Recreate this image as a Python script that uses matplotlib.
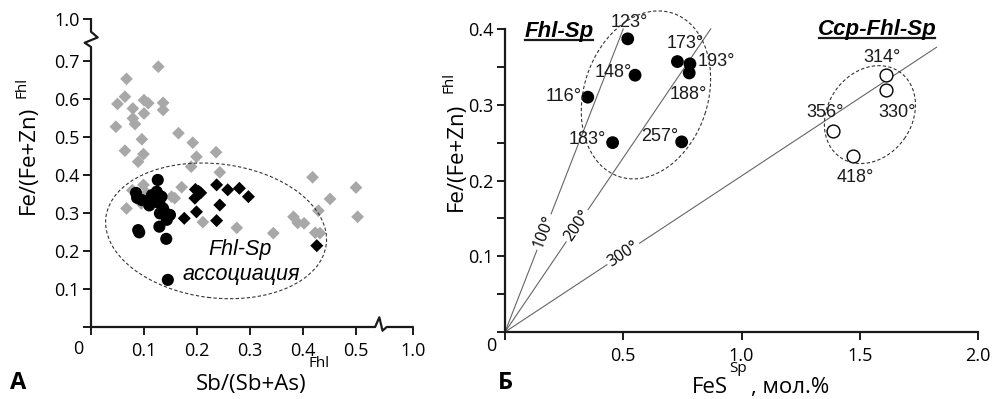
import numpy as np
import matplotlib
matplotlib.use('Agg')
import matplotlib.pyplot as plt
from matplotlib.patches import Ellipse
from matplotlib.lines import Line2D
from matplotlib.transforms import IdentityTransform

plt.rcParams['font.family'] = ['Open Sans', 'DejaVu Sans']

# ---------------- Panel A data ----------------
gray_x = [0.127, 0.067, 0.064, 0.050, 0.079, 0.100, 0.108, 0.100, 0.136, 0.136,
          0.079, 0.083, 0.047, 0.165, 0.096, 0.064, 0.099, 0.089, 0.192, 0.199,
          0.236, 0.189, 0.243, 0.171, 0.158, 0.211, 0.275, 0.344, 0.418, 0.451,
          0.429, 0.500, 0.503, 0.382, 0.390, 0.402, 0.423, 0.432,
          0.067, 0.078, 0.099, 0.105, 0.095, 0.152]
gray_y = [0.685, 0.653, 0.606, 0.587, 0.575, 0.597, 0.589, 0.562, 0.590, 0.571,
          0.549, 0.534, 0.527, 0.510, 0.494, 0.464, 0.455, 0.435, 0.485, 0.448,
          0.460, 0.422, 0.407, 0.368, 0.339, 0.276, 0.261, 0.247, 0.394, 0.337,
          0.306, 0.367, 0.290, 0.290, 0.274, 0.273, 0.248, 0.247,
          0.312, 0.360, 0.374, 0.352, 0.325, 0.343]
circ_x = [0.126, 0.085, 0.087, 0.096, 0.115, 0.124, 0.133, 0.129, 0.136, 0.130,
          0.149, 0.143, 0.129, 0.091, 0.089, 0.142, 0.145, 0.110, 0.120, 0.140]
circ_y = [0.387, 0.353, 0.340, 0.334, 0.347, 0.356, 0.343, 0.326, 0.312, 0.299,
          0.295, 0.282, 0.264, 0.249, 0.255, 0.232, 0.124, 0.320, 0.330, 0.300]
dia_x = [0.197, 0.207, 0.196, 0.199, 0.176, 0.237, 0.258, 0.280, 0.297, 0.243,
         0.237, 0.426, 0.203]
dia_y = [0.362, 0.353, 0.339, 0.303, 0.286, 0.374, 0.361, 0.365, 0.343, 0.321,
         0.280, 0.214, 0.357]
a_xticks = [0.1, 0.2, 0.3, 0.4, 0.5]
a_xtick_labels = ['0.1', '0.2', '0.3', '0.4', '0.5']
a_yticks = [0.1, 0.2, 0.3, 0.4, 0.5, 0.6, 0.7]
a_ytick_labels = ['0.1', '0.2', '0.3', '0.4', '0.5', '0.6', '0.7']
a_break_label = '1.0'

# ---------------- Panel B data ----------------
fhl_x = [0.519, 0.550, 0.350, 0.455, 0.747, 0.729, 0.782, 0.779]
fhl_y = [0.387, 0.339, 0.310, 0.250, 0.251, 0.357, 0.354, 0.342]
fhl_labels = ['123°', '148°', '116°', '183°', '257°', '173°', '193°', '188°']
ccp_x = [1.610, 1.611, 1.386, 1.473]
ccp_y = [0.339, 0.319, 0.266, 0.232]
ccp_labels = ['314°', '330°', '356°', '418°']
iso_labels = ['100°', '200°', '300°']
iso_slopes = [0.80, 0.46, 0.206]
iso_xend = [0.50, 0.87, 1.825]
b_xticks = [0.5, 1.0, 1.5, 2.0]
b_xtick_labels = ['0.5', '1.0', '1.5', '2.0']
b_yticks = [0.1, 0.2, 0.3, 0.4]
b_ytick_labels = ['0.1', '0.2', '0.3', '0.4']

# ---------------- figure ----------------
W, H = 993, 399
fig = plt.figure(figsize=(W / 100, H / 100), dpi=100)


def fx(px):
    return px / W


def fy(py):
    return 1 - py / H


AXC = '#1a1a1a'
TICKFS = 13

# ---------- Panel A ----------
ax1 = fig.add_axes([fx(91), fy(327), (414 - 91) / W, (327 - 19.2) / H])
ax1.set_xlim(0, 0.6094)
ax1.set_ylim(0, 0.81)
for s in ax1.spines.values():
    s.set_visible(False)

ax1.scatter(gray_x, gray_y, marker='D', s=42, color='#a8a8a8', edgecolors='none', zorder=2)
ax1.scatter(circ_x, circ_y, marker='o', s=76, color='black', edgecolors='none', zorder=3)
ax1.scatter(dia_x, dia_y, marker='D', s=44, color='black', edgecolors='none', zorder=3)

X_BRK = 0.607
Y_BRK = 0.81
ax1.set_xticks([0] + a_xticks + [X_BRK])
ax1.set_xticklabels([''] + a_xtick_labels + ['1.0'])
ax1.set_yticks([0] + a_yticks + [Y_BRK])
ax1.set_yticklabels([''] + a_ytick_labels + [a_break_label])
ax1.tick_params(axis='both', direction='out', length=6, width=1.4, color=AXC,
                labelsize=TICKFS, labelcolor='black')
ax1.tick_params(axis='x', pad=5)
ax1.tick_params(axis='y', pad=2)

# broken axes lines
ax1.plot([0, 0, -0.012, 0.0126, 0, 0], [0, 0.737, 0.748, 0.762, 0.777, Y_BRK],
         color=AXC, lw=1.6, clip_on=False, zorder=5)
ax1.plot([0, 0.536, 0.544, 0.550, 0.558, X_BRK], [0, 0, 0.0255, -0.0097, 0, 0],
         color=AXC, lw=1.6, clip_on=False, zorder=5)

fig.text(fx(78), fy(349), '0', ha='center', va='center', fontsize=TICKFS)

# ellipse A
c = ax1.transData.transform((0.236, 0.253))
fig.add_artist(Ellipse(c, 222, 134, angle=-7, transform=IdentityTransform(), fill=False,
                       ls=(0, (3, 2)), lw=0.8, ec='#333333'))

ax1.text(0.281, 0.203, 'Fhl-Sp', ha='center', va='center', fontsize=15.5,
         style='italic', family=['Liberation Sans', 'DejaVu Sans'])
ax1.text(0.283, 0.137, 'ассоциация', ha='center', va='center', fontsize=15.5,
         style='italic', family=['Liberation Sans', 'DejaVu Sans'])

# axis labels A
fig.text(fx(306), fy(390), 'Sb/(Sb+As)', ha='right', va='baseline', fontsize=16)
fig.text(fx(309), fy(367), 'Fhl', ha='left', va='baseline', fontsize=11)
fig.text(fx(28), fy(160), 'Fe/(Fe+Zn)', ha='center', va='center', rotation=90, fontsize=16)
fig.text(fx(22), fy(87), 'Fhl', ha='center', va='center', rotation=90, fontsize=11)
fig.text(fx(18), fy(383), 'А', ha='center', va='center', fontsize=17, fontweight='bold')

# ---------- Panel B ----------
ax2 = fig.add_axes([fx(505), fy(332), 473 / W, (332 - 29) / H])
ax2.set_xlim(0, 2.0)
ax2.set_ylim(0, 0.40)
ax2.spines['top'].set_visible(False)
ax2.spines['right'].set_visible(False)
for s in ('left', 'bottom'):
    ax2.spines[s].set_linewidth(1.6)
    ax2.spines[s].set_color(AXC)
ax2.set_xticks([0] + b_xticks)
ax2.set_xticklabels([''] + b_xtick_labels)
ax2.set_yticks([0] + b_yticks)
ax2.set_yticklabels([''] + b_ytick_labels)
ax2.set_yticks(np.arange(0.05, 0.4, 0.1), minor=True)
ax2.tick_params(axis='both', which='both', direction='out', length=6, width=1.4,
                color=AXC, labelsize=TICKFS)
ax2.tick_params(axis='x', pad=5)
ax2.tick_params(axis='y', pad=2)
fig.text(fx(491), fy(346), '0', ha='center', va='center', fontsize=TICKFS)

# isotherm lines
iso_label_x = [0.165, 0.305, 0.50]
p0 = ax2.transData.transform((0, 0))
for lab, k, xe, xl in zip(iso_labels, iso_slopes, iso_xend, iso_label_x):
    ax2.plot([0, xe], [0, k * xe], color='#666666', lw=0.8, zorder=1, clip_on=False)
    p1 = ax2.transData.transform((1.0, k))
    ang = np.degrees(np.arctan2(p1[1] - p0[1], p1[0] - p0[0]))
    ax2.text(xl, k * xl, lab, rotation=ang, rotation_mode='anchor', ha='center',
             va='center', fontsize=11.5, zorder=2,
             bbox=dict(boxstyle='square,pad=0.12', fc='white', ec='none'))

ax2.scatter(fhl_x, fhl_y, marker='o', s=85, color='black', edgecolors='none', zorder=4)
ax2.scatter(ccp_x, ccp_y, marker='o', s=85, color='white', edgecolors='black',
            linewidths=1.0, zorder=4)

lab_font = ['Liberation Sans', 'DejaVu Sans']
fhl_off = [(2, 16), (-22, 3), (-24, 1), (-25, 3), (-22, 5), (8, 18), (26, 2), (-1, -22)]
ccp_off = [(-4, 18), (11, -22), (-8, 18), (2, -21)]
for x, y, t, o in zip(fhl_x, fhl_y, fhl_labels, fhl_off):
    ax2.annotate(t, (x, y), xytext=o, textcoords='offset pixels', ha='center',
                 va='center', fontsize=13, family=lab_font, color='#1a1a1a', zorder=5)
for x, y, t, o in zip(ccp_x, ccp_y, ccp_labels, ccp_off):
    ax2.annotate(t, (x, y), xytext=o, textcoords='offset pixels', ha='center',
                 va='center', fontsize=13, family=lab_font, color='#1a1a1a', zorder=5)

# ellipses B
for (cx, cy, w, h, a) in [(0.596, 0.313, 172, 124, 72), (1.543, 0.287, 104, 84, 55)]:
    c = ax2.transData.transform((cx, cy))
    fig.add_artist(Ellipse(c, w, h, angle=a, transform=IdentityTransform(), fill=False,
                           ls=(0, (3, 2)), lw=0.8, ec='#333333'))

# group titles
t1 = fig.text(fx(559), fy(31), 'Fhl-Sp', ha='center', va='center', fontsize=16,
              fontweight='bold', style='italic', family=lab_font)
t2 = fig.text(fx(877), fy(29), 'Ccp-Fhl-Sp', ha='center', va='center', fontsize=16,
              fontweight='bold', style='italic', family=lab_font)

# axis labels B
fig.text(fx(728), fy(393), 'FeS', ha='right', va='baseline', fontsize=16)
fig.text(fx(729), fy(372), 'Sp', ha='left', va='baseline', fontsize=11)
fig.text(fx(751), fy(393), ', мол.%', ha='left', va='baseline', fontsize=16)
fig.text(fx(456), fy(157), 'Fe/(Fe+Zn)', ha='center', va='center', rotation=90, fontsize=16)
fig.text(fx(449), fy(82), 'Fhl', ha='center', va='center', rotation=90, fontsize=11)
fig.text(fx(505), fy(383), 'Б', ha='center', va='center', fontsize=17, fontweight='bold')

# underline titles
fig.canvas.draw()
r = fig.canvas.get_renderer()
for t in (t1, t2):
    bb = t.get_window_extent(r)
    fig.add_artist(Line2D([bb.x0 + 1, bb.x1 - 1], [bb.y0 + 1.5, bb.y0 + 1.5], lw=1.6,
                          color='#1a1a1a', transform=IdentityTransform()))

fig.savefig('out.png', dpi=100)
